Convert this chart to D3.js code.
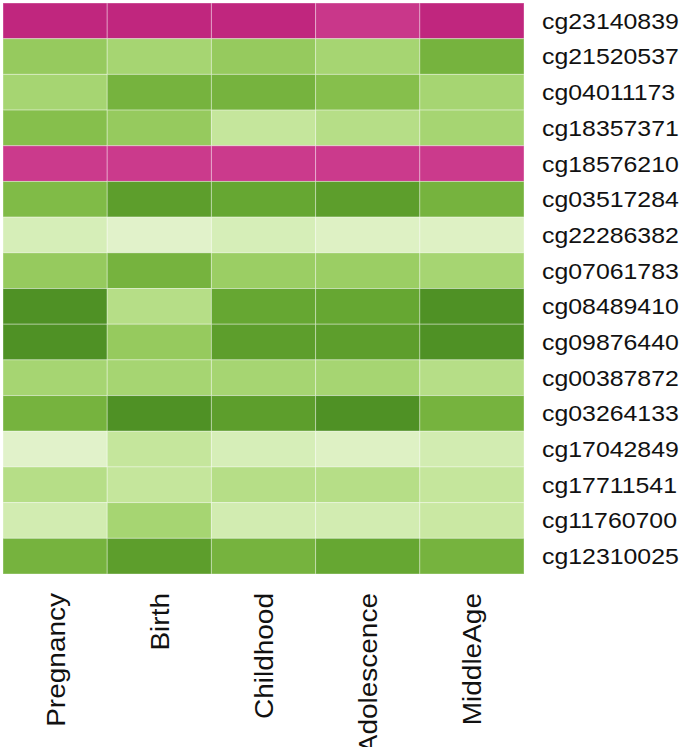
<!DOCTYPE html>
<html>
<head>
<meta charset="utf-8">
<script src="https://cdn.jsdelivr.net/npm/d3@7"></script>
<style>
  html, body { margin: 0; padding: 0; background: #fff; }
  svg { display: block; }
  text { font-family: "Liberation Sans", Arial, sans-serif; fill: #111; }
</style>
</head>
<body>
<svg id="chart" width="685" height="747"></svg>
<script>
const stages = ["Pregnancy", "Birth", "Childhood", "Adolescence", "MiddleAge"];
const probes = ["cg23140839","cg21520537","cg04011173","cg18357371","cg18576210","cg03517284",
  "cg22286382","cg07061783","cg08489410","cg09876440","cg00387872","cg03264133",
  "cg17042849","cg17711541","cg11760700","cg12310025"];

// Values per stage (one per probe, top to bottom)
const pregnancy   = [-0.80,0.52,0.46,0.58,-0.74,0.60,0.26,0.52,0.80,0.80,0.46,0.64,0.20,0.40,0.28,0.64];
const birth       = [-0.80,0.46,0.64,0.52,-0.74,0.74,0.20,0.64,0.40,0.52,0.46,0.80,0.34,0.34,0.46,0.74];
const childhood   = [-0.80,0.52,0.64,0.34,-0.74,0.70,0.26,0.50,0.70,0.74,0.46,0.74,0.26,0.40,0.28,0.64];
const adolescence = [-0.75,0.46,0.58,0.40,-0.74,0.74,0.22,0.50,0.70,0.74,0.46,0.80,0.22,0.40,0.28,0.70];
const middleAge   = [-0.80,0.64,0.46,0.46,-0.74,0.64,0.22,0.46,0.80,0.80,0.40,0.64,0.28,0.34,0.32,0.64];

const seriesValues = [pregnancy, birth, childhood, adolescence, middleAge];

const cells = [];
stages.forEach((s, i) => {
  probes.forEach((p, j) => cells.push({ stage: s, probe: p, value: seriesValues[i][j] }));
});

const svg = d3.select("#chart");
const x = d3.scaleBand().domain(stages).range([3, 524]);
const y = d3.scaleBand().domain(probes).range([3, 574]);
const color = d3.scaleDiverging(d3.interpolatePiYG).domain([-1, 0, 1]);

svg.append("g").selectAll("rect").data(cells).join("rect")
  .attr("x", d => x(d.stage))
  .attr("y", d => y(d.probe))
  .attr("width", x.bandwidth())
  .attr("height", y.bandwidth())
  .attr("fill", d => color(d.value))
  .attr("stroke", "rgba(255,255,255,0.35)")
  .attr("stroke-width", 1);

// Row labels (right side)
svg.append("g").selectAll("text").data(probes).join("text")
  .attr("transform", d => `translate(542,${y(d) + y.bandwidth() / 2}) scale(1.13,1)`)
  .attr("dy", "0.36em")
  .style("font-size", "22px")
  .text(d => d);

// Column labels (rotated, bottom)
svg.append("g").selectAll("text").data(stages).join("text")
  .attr("transform", d => `translate(${x(d) + x.bandwidth() / 2},593) rotate(-90) scale(1.12,1)`)
  .attr("text-anchor", "end")
  .attr("dy", "0.38em")
  .style("font-size", "25px")
  .text(d => d);
</script>
</body>
</html>
